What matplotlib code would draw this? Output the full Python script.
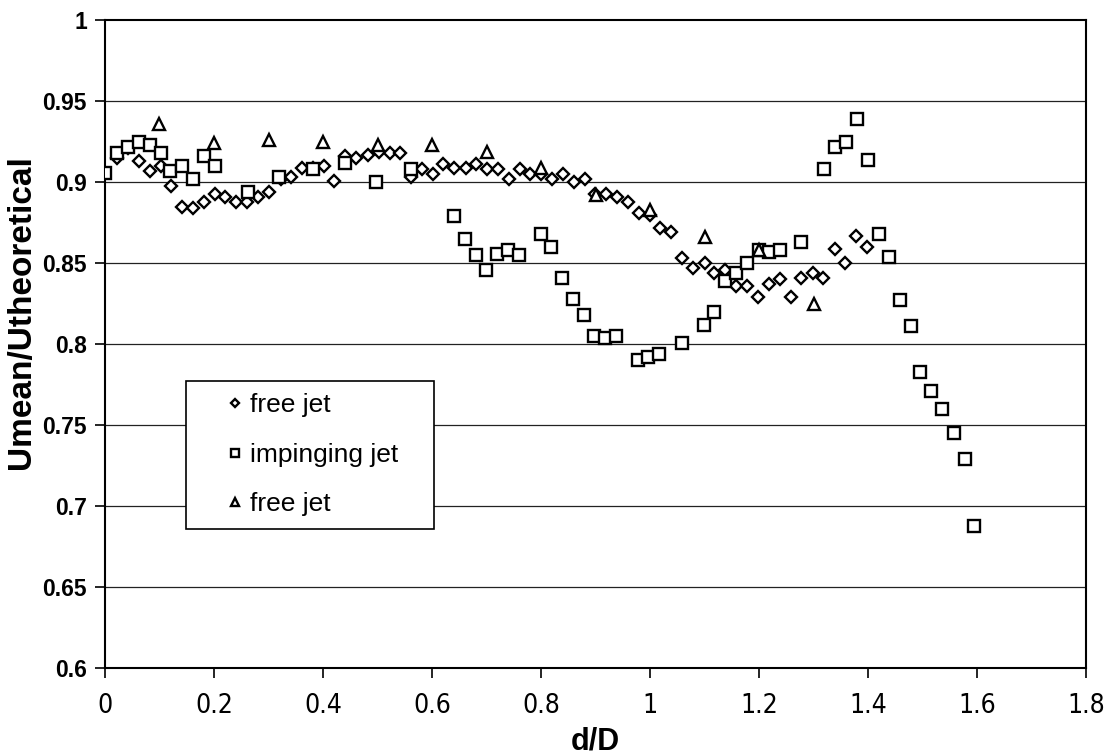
import matplotlib
matplotlib.use("Agg")
import matplotlib.pyplot as plt
from matplotlib.ticker import FixedLocator
from matplotlib.patches import Rectangle
from matplotlib import font_manager

# ---- data ----
free_x = [0.022, 0.042, 0.062, 0.082, 0.102, 0.121, 0.142, 0.161, 0.181, 0.201,
          0.221, 0.241, 0.261, 0.280, 0.301, 0.322, 0.342, 0.362, 0.381, 0.402,
          0.421, 0.441, 0.461, 0.482, 0.502, 0.522, 0.542, 0.561, 0.581, 0.602,
          0.620, 0.641, 0.662, 0.681, 0.701, 0.721, 0.741, 0.761, 0.780, 0.799,
          0.820, 0.840, 0.860, 0.880, 0.899, 0.920, 0.940, 0.960, 0.979, 0.999,
          1.019, 1.039, 1.058, 1.079, 1.100, 1.118, 1.138, 1.158, 1.178, 1.198,
          1.219, 1.239, 1.258, 1.277, 1.298, 1.318, 1.339, 1.358, 1.378, 1.398]
free_y = [0.915, 0.921, 0.913, 0.907, 0.910, 0.898, 0.885, 0.884, 0.888, 0.893,
          0.891, 0.888, 0.888, 0.891, 0.894, 0.902, 0.903, 0.909, 0.909, 0.910,
          0.901, 0.916, 0.915, 0.917, 0.919, 0.918, 0.918, 0.903, 0.908, 0.905,
          0.911, 0.909, 0.909, 0.911, 0.908, 0.908, 0.902, 0.908, 0.905, 0.905,
          0.902, 0.905, 0.900, 0.902, 0.893, 0.893, 0.891, 0.888, 0.881, 0.880,
          0.872, 0.869, 0.853, 0.847, 0.850, 0.844, 0.846, 0.836, 0.836, 0.829,
          0.837, 0.840, 0.829, 0.841, 0.844, 0.841, 0.859, 0.850, 0.867, 0.860]

imp_x = [0.000, 0.022, 0.042, 0.062, 0.082, 0.102, 0.120, 0.142, 0.161, 0.181,
         0.201, 0.262, 0.320, 0.381, 0.441, 0.498, 0.561, 0.640, 0.660, 0.680,
         0.699, 0.719, 0.739, 0.759, 0.799, 0.819, 0.838, 0.858, 0.878, 0.897,
         0.918, 0.938, 0.978, 0.997, 1.017, 1.058, 1.099, 1.118, 1.138, 1.158,
         1.178, 1.199, 1.219, 1.239, 1.277, 1.319, 1.339, 1.360, 1.380, 1.400,
         1.419, 1.439, 1.459, 1.478, 1.496, 1.516, 1.536, 1.557, 1.577, 1.595]
imp_y = [0.906, 0.918, 0.922, 0.925, 0.923, 0.918, 0.907, 0.910, 0.902, 0.916,
         0.910, 0.894, 0.903, 0.908, 0.912, 0.900, 0.908, 0.879, 0.865, 0.855,
         0.846, 0.856, 0.858, 0.855, 0.868, 0.860, 0.841, 0.828, 0.818, 0.805,
         0.804, 0.805, 0.790, 0.792, 0.794, 0.801, 0.812, 0.820, 0.839, 0.844,
         0.850, 0.858, 0.857, 0.858, 0.863, 0.908, 0.922, 0.925, 0.939, 0.914,
         0.868, 0.854, 0.827, 0.811, 0.783, 0.771, 0.760, 0.745, 0.729, 0.688]

free2_x = [0.1, 0.2, 0.3, 0.4, 0.5, 0.6, 0.7, 0.8, 0.9, 1.0, 1.1, 1.2, 1.3]
free2_y = [0.936, 0.924, 0.926, 0.925, 0.923, 0.923, 0.919, 0.909, 0.892,
           0.883, 0.866, 0.858, 0.825]

series_labels = ["free jet", "impinging jet", "free jet"]
x_ticks = [0, 0.2, 0.4, 0.6, 0.8, 1.0, 1.2, 1.4, 1.6, 1.8]
x_ticklabels = ["0", "0.2", "0.4", "0.6", "0.8", "1", "1.2", "1.4", "1.6", "1.8"]
y_ticks = [0.6, 0.65, 0.7, 0.75, 0.8, 0.85, 0.9, 0.95, 1.0]
y_ticklabels = ["0.6", "0.65", "0.7", "0.75", "0.8", "0.85", "0.9", "0.95", "1"]

plt.rcParams['font.family'] = ['Liberation Sans', 'DejaVu Sans']

# narrow font for the x tick labels, if one is installed
_fonts = font_manager.fontManager.ttflist
_names = {f.name for f in _fonts}
if 'Liberation Sans Narrow' in _names:
    xtick_font = dict(family='Liberation Sans Narrow', size=22)
elif any(f.name == 'DejaVu Sans' and f.stretch == 'condensed' for f in _fonts):
    xtick_font = dict(family='DejaVu Sans', stretch='condensed', size=19)
else:
    xtick_font = dict(family='Liberation Sans', size=17)

fig = plt.figure(figsize=(11.05, 7.54), dpi=100)
ax = fig.add_axes([0.095, 0.114, 0.888, 0.859])

ax.set_xlim(0, 1.8)
ax.set_ylim(0.6, 1.0)

for yv in y_ticks[1:-1]:
    ax.axhline(yv, color='#222222', lw=0.9, zorder=1)

mk = dict(linestyle='none', markerfacecolor='white', markeredgecolor='black',
          markeredgewidth=1.7, zorder=3)
ax.plot(free_x, free_y, marker='D', markersize=6, label=series_labels[0], **mk)
ax.plot(imp_x, imp_y, marker='s', markersize=9, label=series_labels[1], **mk)
ax.plot(free2_x, free2_y, marker='^', markersize=9, label=series_labels[2], **mk)

ax.xaxis.set_major_locator(FixedLocator(x_ticks))
ax.set_xticklabels(x_ticklabels, fontproperties=font_manager.FontProperties(**xtick_font))
ax.yaxis.set_major_locator(FixedLocator(y_ticks))
ax.set_yticklabels(y_ticklabels, fontsize=16.5, fontweight='bold')
ax.tick_params(axis='x', direction='out', length=7, width=1.2, colors='black', pad=11)
ax.tick_params(axis='y', direction='out', length=7, width=1.2, colors='black', pad=6)

for s in ax.spines.values():
    s.set_color('black')
    s.set_linewidth(1.5)

xl = ax.set_xlabel("d/D", fontsize=22, fontweight='bold')
xl.set_va('center')
ax.xaxis.set_label_coords(0.5, -0.113)
yl = ax.set_ylabel("Umean/Utheoretical", fontsize=24, fontweight='bold')
yl.set_va('center')
ax.yaxis.set_label_coords(-0.085, 0.55)

# legend box (drawn as a patch) and legend entries
box = Rectangle((0.0826, 0.215), 0.2528, 0.2275, transform=ax.transAxes,
                facecolor='white', edgecolor='black', linewidth=1.2, zorder=4)
ax.add_patch(box)
leg = ax.legend(loc='upper left', bbox_to_anchor=(0.1203, 0.4244),
                fontsize=19, frameon=False, borderpad=0, labelspacing=0.97,
                handlelength=0.9, handletextpad=0.12, markerscale=0.7,
                borderaxespad=0)
leg.set_zorder(5)

fig.savefig("out.png", dpi=100)
